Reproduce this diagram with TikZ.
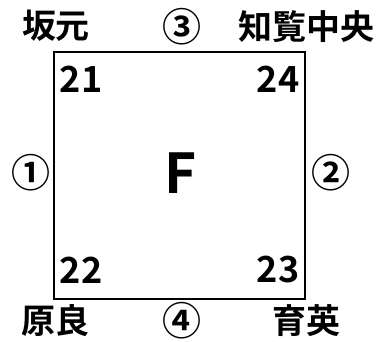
\documentclass[tikz,border=0pt]{standalone}
\usepackage{fontspec}
\setmainfont{Noto Sans CJK JP}[BoldFont={* Bold}]

\tikzset{
	lbl/.style={inner sep=0,outer sep=0,font=\fontsize{34}{36}\selectfont\bfseries},
	rnd/.style={inner sep=0,outer sep=0,font=\fontsize{39}{41}\selectfont\bfseries},
	num/.style={inner sep=0,outer sep=0,font=\fontsize{36}{38}\selectfont\bfseries},
}

\begin{document}
\begin{tikzpicture}[x=1pt,y=-1pt]
	\useasboundingbox (0,0) rectangle (378,341);
	\draw[line width=2pt] (54,52) rectangle (304.5,299);
	\node[lbl] (sakamoto) at (56,26) {坂元};
	\node[rnd] (r3) at (182,27) {③};
	\node[lbl] (chiran) at (306,27) {知覧中央};
	\node[rnd] (r1) at (31,173) {①};
	\node[rnd] (r2) at (331,173) {②};
	\node[lbl] (harara) at (55.5,321) {原良};
	\node[rnd] (r4) at (181.5,321) {④};
	\node[lbl] (ikuei) at (306.5,321) {育英};
	\node[num] (n21) at (81,79) {21};
	\node[num] (n24) at (278,79) {24};
	\node[num] (n22) at (81,270) {22};
	\node[num] (n23) at (278,270) {23};
	\node[inner sep=0,font=\fontsize{55}{58}\selectfont\bfseries] (f) at (181,173) {F};
\end{tikzpicture}
\end{document}
